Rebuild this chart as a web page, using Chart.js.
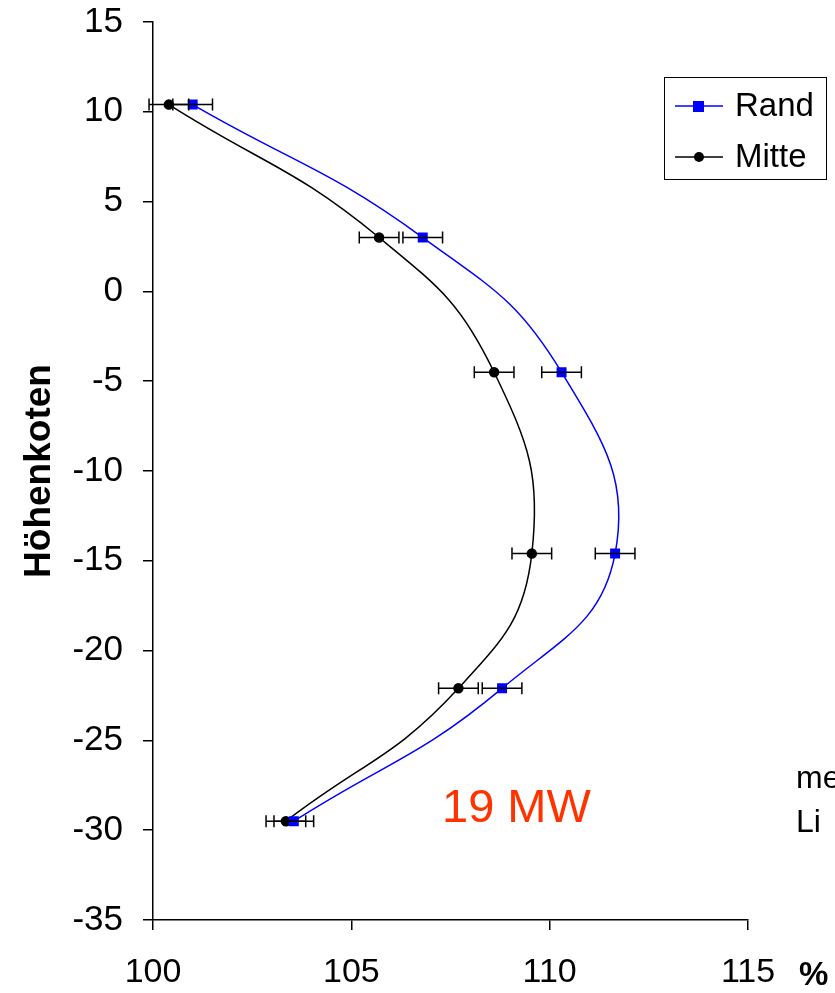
<!DOCTYPE html>
<html lang="de"><head><meta charset="UTF-8"><title>Höhenkoten 19 MW</title>
<style>
  html,body{margin:0;padding:0;background:#fff;}
  .wrap{position:relative;width:835px;height:993px;}
</style>
<script src="https://cdn.jsdelivr.net/npm/chart.js"></script>
</head><body>
  <div class="wrap"><canvas id="c"></canvas></div>
  <script>
    // values
    const heights   = [10.4, 3.0, -4.5, -14.6, -22.1, -29.5];
    const randVals  = [101.0, 106.8, 110.3, 111.65, 108.8, 103.55];
    const mitteVals = [100.4, 105.7, 108.6, 109.55, 107.7, 103.35];
    const randErr   = [0.5, 0.5, 0.5, 0.5, 0.5, 0.5];
    const mitteErr  = [0.5, 0.5, 0.5, 0.5, 0.5, 0.5];
    const xTicks    = [100, 105, 110, 115];
    const yTicks    = [-35, -30, -25, -20, -15, -10, -5, 0, 5, 10, 15];

    const FONT = '"Liberation Sans", Arial, sans-serif';
    const toPts = (xs) => xs.map((x, i) => ({ x, y: heights[i] }));

    // horizontal error bars with caps, drawn through the scales
    const errorBars = {
      id: 'errorBars',
      afterDatasetsDraw(chart) {
        const { ctx, scales: { x, y } } = chart;
        const errs = [randErr, mitteErr];
        ctx.save();
        ctx.strokeStyle = '#000';
        ctx.lineWidth = 1.5;
        chart.data.datasets.forEach((ds, di) => {
          ds.data.forEach((p, i) => {
            const py = y.getPixelForValue(p.y);
            const x0 = x.getPixelForValue(p.x - errs[di][i]);
            const x1 = x.getPixelForValue(p.x + errs[di][i]);
            ctx.beginPath();
            ctx.moveTo(x0, py); ctx.lineTo(x1, py);
            ctx.moveTo(x0, py - 6); ctx.lineTo(x0, py + 6);
            ctx.moveTo(x1, py - 6); ctx.lineTo(x1, py + 6);
            ctx.stroke();
          });
        });
        ctx.restore();
      }
    };

    // boxed legend at the top right + loose texts
    const extras = {
      id: 'extras',
      afterDraw(chart) {
        const { ctx } = chart;
        ctx.save();
        // legend box
        ctx.strokeStyle = '#000';
        ctx.lineWidth = 1;
        ctx.strokeRect(664.5, 77.5, 162, 102);
        const rows = [106, 157];
        chart.data.datasets.forEach((ds, i) => {
          const ry = rows[i];
          ctx.strokeStyle = ds.borderColor;
          ctx.lineWidth = 1.5;
          ctx.beginPath(); ctx.moveTo(675, ry); ctx.lineTo(723, ry); ctx.stroke();
          ctx.fillStyle = ds.pointBackgroundColor;
          if (ds.pointStyle === 'rect') ctx.fillRect(693, ry - 5, 11, 11);
          else { ctx.beginPath(); ctx.arc(699, ry, 5, 0, Math.PI * 2); ctx.fill(); }
          ctx.fillStyle = '#000';
          ctx.font = '33px ' + FONT;
          ctx.textBaseline = 'middle';
          ctx.textAlign = 'left';
          ctx.fillText(ds.label, 735, ry + 1);
        });
        // annotation
        ctx.fillStyle = '#FF3300';
        ctx.font = '47px ' + FONT;
        ctx.textBaseline = 'middle';
        ctx.fillText('19 MW', 442, 809);
        // text cut off at the right edge
        ctx.fillStyle = '#000';
        ctx.font = '32px ' + FONT;
        ctx.fillText('me', 796, 779);
        ctx.fillText('Li', 796, 823);
        // unit
        ctx.font = 'bold 33px ' + FONT;
        ctx.fillText('%', 799, 976);
        ctx.restore();
      }
    };

    new Chart(document.getElementById('c'), {
      type: 'scatter',
      data: {
        datasets: [
          {
            label: 'Rand',
            data: toPts(randVals),
            showLine: true,
            tension: 0.45,
            borderColor: '#0000FF',
            borderWidth: 1.5,
            pointStyle: 'rect',
            pointRadius: 6,
            pointBackgroundColor: '#0000FF',
            pointBorderColor: '#0000FF',
            clip: false
          },
          {
            label: 'Mitte',
            data: toPts(mitteVals),
            showLine: true,
            tension: 0.45,
            borderColor: '#000000',
            borderWidth: 1.5,
            pointStyle: 'circle',
            pointRadius: 4.5,
            pointBackgroundColor: '#000000',
            pointBorderColor: '#000000',
            clip: false
          }
        ]
      },
      options: {
        responsive: true,
        maintainAspectRatio: false,
        animation: false,
        layout: { padding: { top: 22, right: 87, left: 0, bottom: 0 } },
        plugins: { legend: { display: false }, tooltip: { enabled: false } },
        scales: {
          x: {
            type: 'linear',
            min: 100, max: 115,
            afterBuildTicks: s => { s.ticks = xTicks.map(v => ({ value: v })); },
            afterFit: s => { s.height = 73; s.paddingLeft = 0; s.paddingRight = 0; },
            ticks: { color: '#000', font: { family: FONT, size: 34 }, padding: 22, maxRotation: 0 },
            grid: { drawOnChartArea: false, tickLength: 10, color: '#000', lineWidth: 1.5 },
            border: { color: '#000', width: 1.5 }
          },
          y: {
            type: 'linear',
            min: -35, max: 15,
            afterBuildTicks: s => { s.ticks = yTicks.map(v => ({ value: v })); },
            afterFit: s => { s.width = 153; s.paddingTop = 0; s.paddingBottom = 0; },
            ticks: { color: '#000', font: { family: FONT, size: 35 }, padding: 20 },
            grid: { drawOnChartArea: false, tickLength: 10, color: '#000', lineWidth: 1.5 },
            border: { color: '#000', width: 1.5 },
            title: {
              display: true,
              text: 'Höhenkoten',
              color: '#000',
              font: { family: FONT, size: 37, weight: 'bold' },
              padding: { top: 18, bottom: 0 }
            }
          }
        }
      },
      plugins: [errorBars, extras]
    });
  </script>
</body></html>
